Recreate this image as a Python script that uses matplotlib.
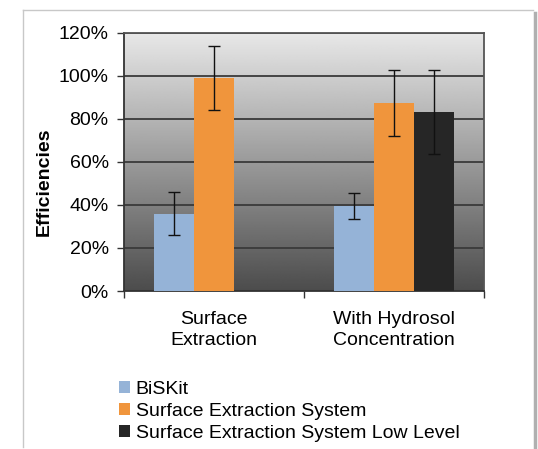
import numpy as np
import matplotlib
matplotlib.use("Agg")
import matplotlib.pyplot as plt
from matplotlib.lines import Line2D

plt.rcParams['font.family'] = ['Liberation Sans', 'DejaVu Sans']

# data (percent)
categories = ["Surface\nExtraction", "With Hydrosol\nConcentration"]
series_names = ["BiSKit", "Surface Extraction System", "Surface Extraction System Low Level"]
biskit = [36, 39.5]
biskit_err = [10, 6]
ses = [99, 87.5]
ses_err = [15, 15.3]
ses_low = [np.nan, 83.3]
ses_low_err = [np.nan, 19.5]
yticks = [0, 20, 40, 60, 80, 100, 120]

colors = ["#95b3d7", "#f0953c", "#262626"]

fig = plt.figure(figsize=(5.38, 4.49), dpi=100)
ax = fig.add_axes([124 / 538, 1 - 291 / 449, 360 / 538, 258.3 / 449])

# plot area gradient, light at the top to dark at the bottom
grad = np.linspace(0.91, 0.30, 256).reshape(-1, 1)
ax.imshow(grad, cmap="gray", vmin=0, vmax=1, aspect="auto",
          extent=[0, 1, 0, 1], transform=ax.transAxes, zorder=0)

x = np.arange(len(categories))
w = 0.2225
all_vals = [biskit, ses, ses_low]
all_errs = [biskit_err, ses_err, ses_low_err]
for i, (vals, errs) in enumerate(zip(all_vals, all_errs)):
    xs = x + (i - 1) * w
    ax.bar(xs, vals, width=w, color=colors[i], label=series_names[i], zorder=3)
    ax.errorbar(xs, vals, yerr=errs, fmt="none", ecolor="#111111",
                elinewidth=1.0, capsize=4, capthick=1.0, zorder=4)

ax.set_xlim(-0.5, 1.5)
ax.set_ylim(0, 120)
ax.set_yticks(yticks)
ax.set_yticklabels([f"{v}%" for v in yticks])
ax.yaxis.grid(True, color="#3a3a3a", linewidth=1.3, zorder=1)
ax.set_axisbelow(True)

ax.set_xticks(x)
ax.set_xticklabels(categories, linespacing=1.3)
ax.set_xticks([-0.5, 0.5, 1.5], minor=True)
ax.tick_params(axis="x", which="major", length=0, pad=14.5, labelsize=14)
ax.tick_params(axis="x", which="minor", length=5, width=1, color="#333333")
ax.tick_params(axis="y", length=5, width=1, pad=6, labelsize=14, color="#333333")

for s in ["left", "bottom"]:
    ax.spines[s].set_color("#333333")
    ax.spines[s].set_linewidth(1.3)
for s in ["right", "top"]:
    ax.spines[s].set_color("#555555")
    ax.spines[s].set_linewidth(1.3)

ax.text(-0.222, 0.422, "Efficiencies", transform=ax.transAxes, rotation=90,
        ha="center", va="center", fontsize=14, fontweight="bold")

leg = fig.legend(loc="upper left", bbox_to_anchor=(119 / 538, 1 - 381 / 449),
                 frameon=False, fontsize=14, handlelength=0.55, handleheight=0.55,
                 handletextpad=0.3, labelspacing=0.25, borderpad=0, borderaxespad=0)

# outer frame of the chart
fig.add_artist(Line2D([23 / 538, 23 / 538], [1 - 447 / 449, 1 - 10 / 449],
                      transform=fig.transFigure, color="#c8c8c8", lw=1))
fig.add_artist(Line2D([23 / 538, 533 / 538], [1 - 10 / 449, 1 - 10 / 449],
                      transform=fig.transFigure, color="#c8c8c8", lw=1))
fig.add_artist(Line2D([535 / 538, 535 / 538], [1 - 447 / 449, 1 - 13 / 449],
                      transform=fig.transFigure, color="#b0b0b0", lw=2.5))

fig.savefig("out.png", dpi=100)
